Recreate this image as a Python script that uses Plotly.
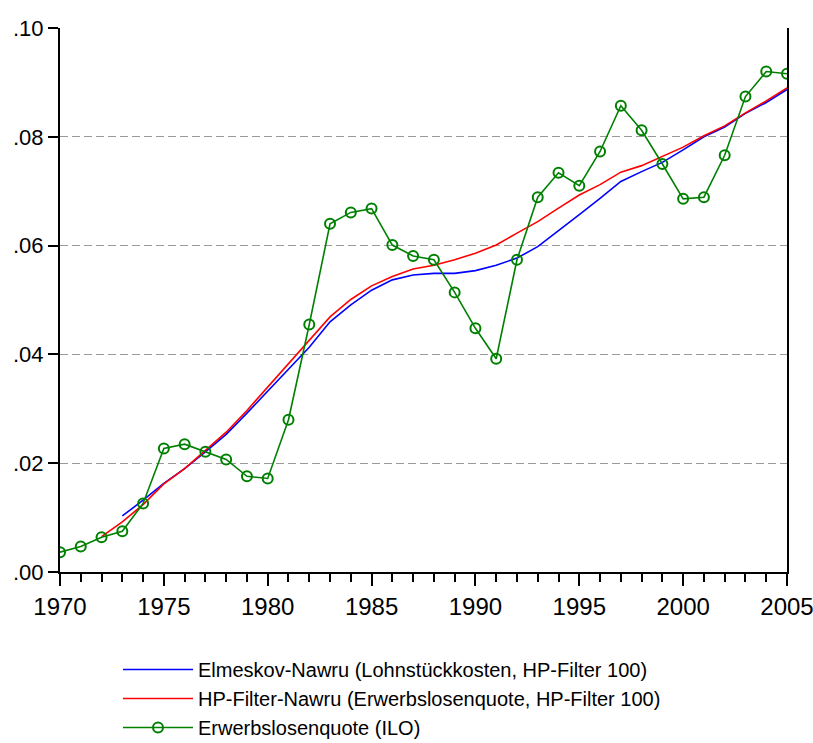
import plotly.graph_objects as go

# ---- data ----
years_ilo = list(range(1970, 2006))
ilo = [0.00365, 0.0047, 0.0064, 0.0075, 0.0126, 0.0227, 0.0235, 0.0221, 0.0207, 0.0176,
       0.0172, 0.0280, 0.0455, 0.0640, 0.0661, 0.0668, 0.0601, 0.0581, 0.0574, 0.0514,
       0.0448, 0.0392, 0.0574, 0.0689, 0.0734, 0.0710, 0.0773, 0.0857, 0.0812, 0.0750,
       0.0686, 0.0689, 0.0766, 0.0874, 0.0920, 0.0916]

years_elm = list(range(1973, 2006))
elmeskov = [0.0103, 0.0132, 0.0163, 0.0190, 0.0221, 0.0253, 0.0292, 0.0332, 0.0372, 0.0413,
            0.0460, 0.0491, 0.0518, 0.0537, 0.0546, 0.0549, 0.0549, 0.0554, 0.0564, 0.0577,
            0.0598, 0.0627, 0.0657, 0.0687, 0.0718, 0.0736, 0.0753, 0.0776, 0.0800, 0.0818,
            0.0843, 0.0863, 0.0887]

years_hp = list(range(1972, 2006))
hp = [0.0065, 0.0092, 0.0124, 0.0162, 0.0190, 0.0224, 0.0257, 0.0297, 0.0340, 0.0382,
      0.0425, 0.0469, 0.0501, 0.0526, 0.0543, 0.0557, 0.0564, 0.0574, 0.0586, 0.0601,
      0.0623, 0.0644, 0.0669, 0.0693, 0.0712, 0.0735, 0.0747, 0.0764, 0.0781, 0.0802,
      0.0820, 0.0844, 0.0866, 0.0890]

y_ticks = [0.0, 0.02, 0.04, 0.06, 0.08, 0.10]
y_ticktext = [".00", ".02", ".04", ".06", ".08", ".10"]
x_ticks = [1970, 1975, 1980, 1985, 1990, 1995, 2000, 2005]

names = ["Elmeskov-Nawru (Lohnstückkosten, HP-Filter 100)",
         "HP-Filter-Nawru (Erwerbslosenquote, HP-Filter 100)",
         "Erwerbslosenquote (ILO)"]

FONT = "Liberation Sans, Arial, sans-serif"

fig = go.Figure()
fig.add_trace(go.Scatter(x=years_elm, y=elmeskov, mode="lines", name=names[0],
                         line=dict(color="#0000FF", width=1.6)))
fig.add_trace(go.Scatter(x=years_hp, y=hp, mode="lines", name=names[1],
                         line=dict(color="#FF0000", width=1.6)))
fig.add_trace(go.Scatter(x=years_ilo, y=ilo, mode="lines+markers", name=names[2],
                         line=dict(color="#008000", width=1.6),
                         marker=dict(symbol="circle-open", size=10, color="#008000",
                                     line=dict(width=2, color="#008000"))))

fig.update_layout(
    width=813, height=743,
    margin=dict(l=60, r=26, t=28, b=171, autoexpand=False),
    paper_bgcolor="white", plot_bgcolor="white",
    font=dict(family=FONT, size=22, color="black"),
    showlegend=True,
    legend=dict(x=118 / 813, y=1 - 650 / 743, xref="container", yref="container",
                xanchor="left", yanchor="top",
                orientation="v", font=dict(family=FONT, size=20, color="black"),
                bgcolor="rgba(0,0,0,0)", tracegroupgap=0, itemwidth=70),
)

fig.update_xaxes(
    range=[1970, 2005], tickvals=x_ticks, ticktext=[str(v) for v in x_ticks],
    ticks="outside", ticklen=12, tickwidth=1.5, tickcolor="black",
    minor=dict(dtick=1, tick0=1970, ticks="outside", ticklen=8, tickwidth=1.5,
               tickcolor="black", showgrid=False),
    showline=True, linecolor="black", linewidth=2, mirror=False,
    showgrid=False, zeroline=False, automargin=False, ticklabeloverflow="allow",
    tickfont=dict(family=FONT, size=24, color="black"),
)
fig.update_yaxes(
    range=[0, 0.1], tickvals=y_ticks, ticktext=y_ticktext,
    ticks="outside", ticklen=10, tickwidth=1.5, tickcolor="black",
    showline=True, linecolor="black", linewidth=2, mirror=True,
    showgrid=True, gridcolor="#999999", gridwidth=1, griddash="8px,4px",
    zeroline=False, automargin=False, ticklabeloverflow="allow",
    tickfont=dict(family=FONT, size=22, color="black"),
)

fig.write_html("out.html", config={"displayModeBar": False},
               post_script="document.body.style.margin='0';document.body.style.overflow='hidden';")
